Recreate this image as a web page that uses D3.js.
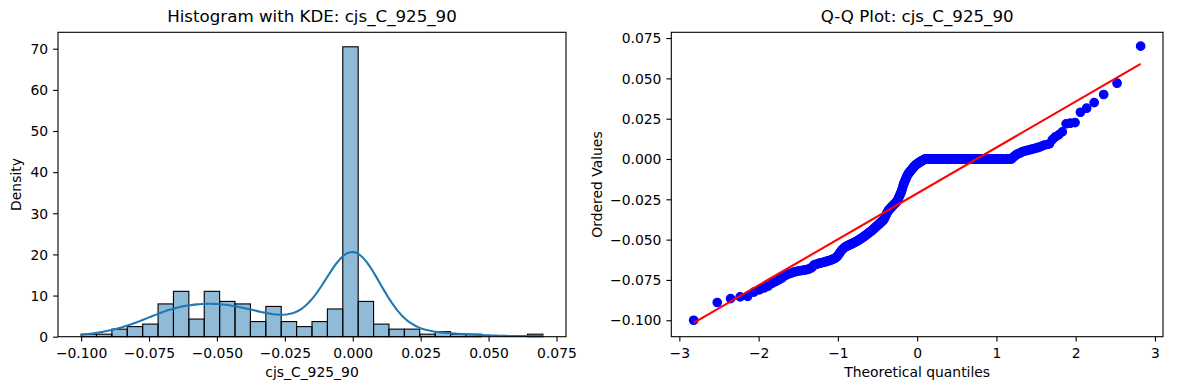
<!DOCTYPE html>
<html>
<head>
  <meta charset="utf-8">
  <title>Histogram with KDE and Q-Q plot</title>
  <script src="https://d3js.org/d3.v7.min.js"></script>
  <style type="text/css">
    body { margin: 0; background: #fff; }
    svg { font-family: "DejaVu Sans", sans-serif; display: block; }
  </style>
</head>
<body>
  <svg id="chart" width="1189" height="390"></svg>
  <script type="text/javascript">
    const varName = "cjs_C_925_90";

    const negativeValues = [
      -0.1000,
      -0.0890,
      -0.0866, -0.0855, -0.0852,
      -0.0826, -0.0812, -0.0800, -0.0788,
      -0.0771, -0.0760, -0.0750, -0.0738, -0.0724,
      -0.0715, -0.0710, -0.0705, -0.0700, -0.0697, -0.0694, -0.0692, -0.0690, -0.0688, -0.0686, -0.0683, -0.0678, -0.0672,
      -0.0658, -0.0655, -0.0652, -0.0649, -0.0646, -0.0644, -0.0642, -0.0640, -0.0637, -0.0635, -0.0632, -0.0630, -0.0627, -0.0624, -0.0621, -0.0618, -0.0613, -0.0607,
      -0.0600, -0.0590, -0.0580, -0.0570, -0.0562, -0.0556, -0.0550,
      -0.0545, -0.0542, -0.0539, -0.0536, -0.0533, -0.0530, -0.0527, -0.0524, -0.0521, -0.0518, -0.0515, -0.0512, -0.0509, -0.0506, -0.0502, -0.0498, -0.0495, -0.0492,
      -0.0488, -0.0484, -0.0480, -0.0476, -0.0472, -0.0468, -0.0464, -0.0460, -0.0456, -0.0452, -0.0448, -0.0444, -0.0440, -0.0436,
      -0.0431, -0.0427, -0.0422, -0.0418, -0.0413, -0.0409, -0.0405, -0.0400, -0.0396, -0.0391, -0.0387, -0.0382, -0.0378,
      -0.0372, -0.0362, -0.0352, -0.0342, -0.0333, -0.0324,
      -0.0318, -0.0313, -0.0308, -0.0303, -0.0298, -0.0293, -0.0288, -0.0283, -0.0279, -0.0274, -0.0269, -0.0265,
      -0.0260, -0.0250, -0.0240, -0.0230, -0.0220, -0.0210,
      -0.0200, -0.0185, -0.0170, -0.0155,
      -0.0145, -0.0135, -0.0125, -0.0115, -0.0105, -0.0097,
      -0.0090, -0.0084, -0.0079, -0.0074, -0.0068, -0.0063, -0.0058, -0.0053, -0.0048, -0.0043, -0.0039,
      -0.0035, -0.0032, -0.0029, -0.0026, -0.0023, -0.0020, -0.0017, -0.0014, -0.0012, -0.0010, -0.0007, -0.0005, -0.0002
    ];
    // the long flat run of exact zeros in the Q-Q plot
    const zeroCount = 100;
    const positiveValues = [
      0.0010, 0.0017,
      0.0025, 0.0030, 0.0035, 0.0038, 0.0045, 0.0048, 0.0051, 0.0054, 0.0057, 0.0060, 0.0063, 0.0066, 0.0070, 0.0074,
      0.0080, 0.0086, 0.0090, 0.0094, 0.0120,
      0.0138, 0.0150, 0.0168,
      0.0218, 0.0222, 0.0226,
      0.0290, 0.0315, 0.0350, 0.0400, 0.0470, 0.0700
    ];

    const binCount = 30;
    const histTicksX = [-0.1, -0.075, -0.05, -0.025, 0, 0.025, 0.05, 0.075];
    const histTicksY = [0, 10, 20, 30, 40, 50, 60, 70];
    const qqTicksX = [-3, -2, -1, 0, 1, 2, 3];
    const qqTicksY = [-0.1, -0.075, -0.05, -0.025, 0, 0.025, 0.05, 0.075];

    const values = negativeValues.concat(d3.range(zeroCount).map(() => 0), positiveValues);
    const n = values.length;

    const fontSize = 13.9;
    const svg = d3.select("#chart");
    svg.append("rect").attr("width", 1189).attr("height", 390).attr("fill", "#fff");

    // inverse normal cdf (Acklam)
    function normInv(p) {
      const a = [-3.969683028665376e+01, 2.209460984245205e+02, -2.759285104469687e+02, 1.383577518672690e+02, -3.066479806614716e+01, 2.506628277459239e+00];
      const b = [-5.447609879822406e+01, 1.615858368580409e+02, -1.556989798598866e+02, 6.680131188771972e+01, -1.328068155288572e+01];
      const c = [-7.784894002430293e-03, -3.223964580411365e-01, -2.400758277161838e+00, -2.549732539343734e+00, 4.374664141464968e+00, 2.938163982698783e+00];
      const d = [7.784695709041462e-03, 3.224671290700398e-01, 2.445134137142996e+00, 3.754408661907416e+00];
      const pl = 0.02425;
      let q, r;
      if (p < pl) {
        q = Math.sqrt(-2 * Math.log(p));
        return (((((c[0]*q+c[1])*q+c[2])*q+c[3])*q+c[4])*q+c[5]) / ((((d[0]*q+d[1])*q+d[2])*q+d[3])*q+1);
      }
      if (p <= 1 - pl) {
        q = p - 0.5; r = q * q;
        return (((((a[0]*r+a[1])*r+a[2])*r+a[3])*r+a[4])*r+a[5])*q / (((((b[0]*r+b[1])*r+b[2])*r+b[3])*r+b[4])*r+1);
      }
      q = Math.sqrt(-2 * Math.log(1 - p));
      return -(((((c[0]*q+c[1])*q+c[2])*q+c[3])*q+c[4])*q+c[5]) / ((((d[0]*q+d[1])*q+d[2])*q+d[3])*q+1);
    }

    function drawAxes(g, x, y, box, opts) {
      const xAxis = d3.axisBottom(x).tickValues(opts.ticksX).tickFormat(opts.fmtX)
        .tickSize(4.9).tickSizeOuter(0).tickPadding(5);
      const yAxis = d3.axisLeft(y).tickValues(opts.ticksY).tickFormat(opts.fmtY)
        .tickSize(4.9).tickSizeOuter(0).tickPadding(5);

      const gx = g.append("g").attr("transform", `translate(0,${box.bottom})`).call(xAxis);
      const gy = g.append("g").attr("transform", `translate(${box.left},0)`).call(yAxis);
      [gx, gy].forEach(a => {
        a.select(".domain").remove();
        a.selectAll("line").attr("stroke", "#000").attr("stroke-width", 1.1);
        a.selectAll("text").attr("fill", "#000").style("font-size", fontSize + "px")
          .style("font-family", "'DejaVu Sans', sans-serif");
      });
      gx.selectAll("text").attr("dy", "0.71em").attr("y", 4.9 + 6.5);
      gy.selectAll("text").attr("dy", "0.34em");

      g.append("rect")
        .attr("x", box.left).attr("y", box.top)
        .attr("width", box.right - box.left).attr("height", box.bottom - box.top)
        .attr("fill", "none").attr("stroke", "#000").attr("stroke-width", 1.1);

      g.append("text")
        .attr("x", (box.left + box.right) / 2).attr("y", 21.5)
        .attr("text-anchor", "middle").style("font-size", "16.67px")
        .text(opts.title);
      g.append("text")
        .attr("x", (box.left + box.right) / 2).attr("y", 377)
        .attr("text-anchor", "middle").style("font-size", fontSize + "px")
        .text(opts.xLabel);
      g.append("text")
        .attr("transform", `translate(${opts.yLabelX},${(box.top + box.bottom) / 2}) rotate(-90)`)
        .attr("text-anchor", "middle").style("font-size", fontSize + "px")
        .text(opts.yLabel);
    }

    // ---------- left: histogram with KDE ----------
    const vMin = d3.min(values), vMax = d3.max(values);
    const binW = (vMax - vMin) / binCount;
    const thresholds = d3.range(1, binCount).map(i => vMin + i * binW);
    const bins = d3.bin().domain([vMin, vMax]).thresholds(thresholds)(values);
    bins.forEach(b => b.density = b.length / (n * binW));

    // gaussian KDE, Scott bandwidth, evaluated on the data range
    const sd = d3.deviation(values);
    const bw = sd * Math.pow(n, -0.2);
    const kdeX = d3.range(200).map(i => vMin + i * (vMax - vMin) / 199);
    const kde = kdeX.map(xv => {
      let s = 0;
      for (const v of values) { const u = (xv - v) / bw; s += Math.exp(-0.5 * u * u); }
      return [xv, s / (n * bw * Math.sqrt(2 * Math.PI))];
    });

    const box1 = {left: 58, right: 566, top: 32.3, bottom: 336.7};
    const pad1 = 0.05 * (vMax - vMin);
    const x1 = d3.scaleLinear().domain([vMin - pad1, vMax + pad1]).range([box1.left, box1.right]);
    const yMax1 = Math.max(d3.max(bins, b => b.density), d3.max(kde, k => k[1]));
    const y1 = d3.scaleLinear().domain([0, yMax1 * 1.05]).range([box1.bottom, box1.top]);

    const g1 = svg.append("g");
    g1.append("g").selectAll("rect")
      .data(bins.filter(b => b.length > 0))
      .join("rect")
        .attr("x", b => x1(b.x0))
        .attr("width", b => x1(b.x1) - x1(b.x0))
        .attr("y", b => y1(b.density))
        .attr("height", b => y1(0) - y1(b.density))
        .attr("fill", "#1f77b4").attr("fill-opacity", 0.5)
        .attr("stroke", "#000").attr("stroke-width", 1.1);

    g1.append("path")
      .datum(kde)
      .attr("fill", "none").attr("stroke", "#1f77b4").attr("stroke-width", 2.08)
      .attr("d", d3.line().x(d => x1(d[0])).y(d => y1(d[1])));

    drawAxes(g1, x1, y1, box1, {
      ticksX: histTicksX, ticksY: histTicksY,
      fmtX: d3.format(".3f"), fmtY: d3.format("d"),
      title: "Histogram with KDE: " + varName,
      xLabel: varName, yLabel: "Density", yLabelX: 21
    });

    // ---------- right: Q-Q plot ----------
    const sorted = values.slice().sort(d3.ascending);
    const m = sorted.map((_, i) => (i + 1 - 0.3175) / (n + 0.365));
    m[n - 1] = Math.pow(0.5, 1 / n);
    m[0] = 1 - m[n - 1];
    const qq = sorted.map((v, i) => [normInv(m[i]), v]);

    const qMean = d3.mean(qq, d => d[0]), vMean = d3.mean(qq, d => d[1]);
    const slope = d3.sum(qq, d => (d[0] - qMean) * (d[1] - vMean)) / d3.sum(qq, d => (d[0] - qMean) ** 2);
    const intercept = vMean - slope * qMean;
    const qExt = d3.extent(qq, d => d[0]);
    const fitLine = qExt.map(q => [q, intercept + slope * q]);

    const box2 = {left: 671.3, right: 1163, top: 32.3, bottom: 336.7};
    const qPad = 0.05 * (qExt[1] - qExt[0]);
    const yExt2 = d3.extent(qq.concat(fitLine), d => d[1]);
    const yPad2 = 0.05 * (yExt2[1] - yExt2[0]);
    const x2 = d3.scaleLinear().domain([qExt[0] - qPad, qExt[1] + qPad]).range([box2.left, box2.right]);
    const y2 = d3.scaleLinear().domain([yExt2[0] - yPad2, yExt2[1] + yPad2]).range([box2.bottom, box2.top]);

    const g2 = svg.append("g");
    g2.append("g").selectAll("circle")
      .data(qq)
      .join("circle")
        .attr("cx", d => x2(d[0])).attr("cy", d => y2(d[1]))
        .attr("r", 4.2)
        .attr("fill", "#0000ff").attr("stroke", "#0000ff").attr("stroke-width", 1.3);

    g2.append("path")
      .datum(fitLine)
      .attr("fill", "none").attr("stroke", "#ff0000").attr("stroke-width", 2.08)
      .attr("d", d3.line().x(d => x2(d[0])).y(d => y2(d[1])));

    drawAxes(g2, x2, y2, box2, {
      ticksX: qqTicksX, ticksY: qqTicksY,
      fmtX: d3.format("d"), fmtY: d3.format(".3f"),
      title: "Q-Q Plot: " + varName,
      xLabel: "Theoretical quantiles", yLabel: "Ordered Values", yLabelX: 602
    });
  </script>
</body>
</html>
